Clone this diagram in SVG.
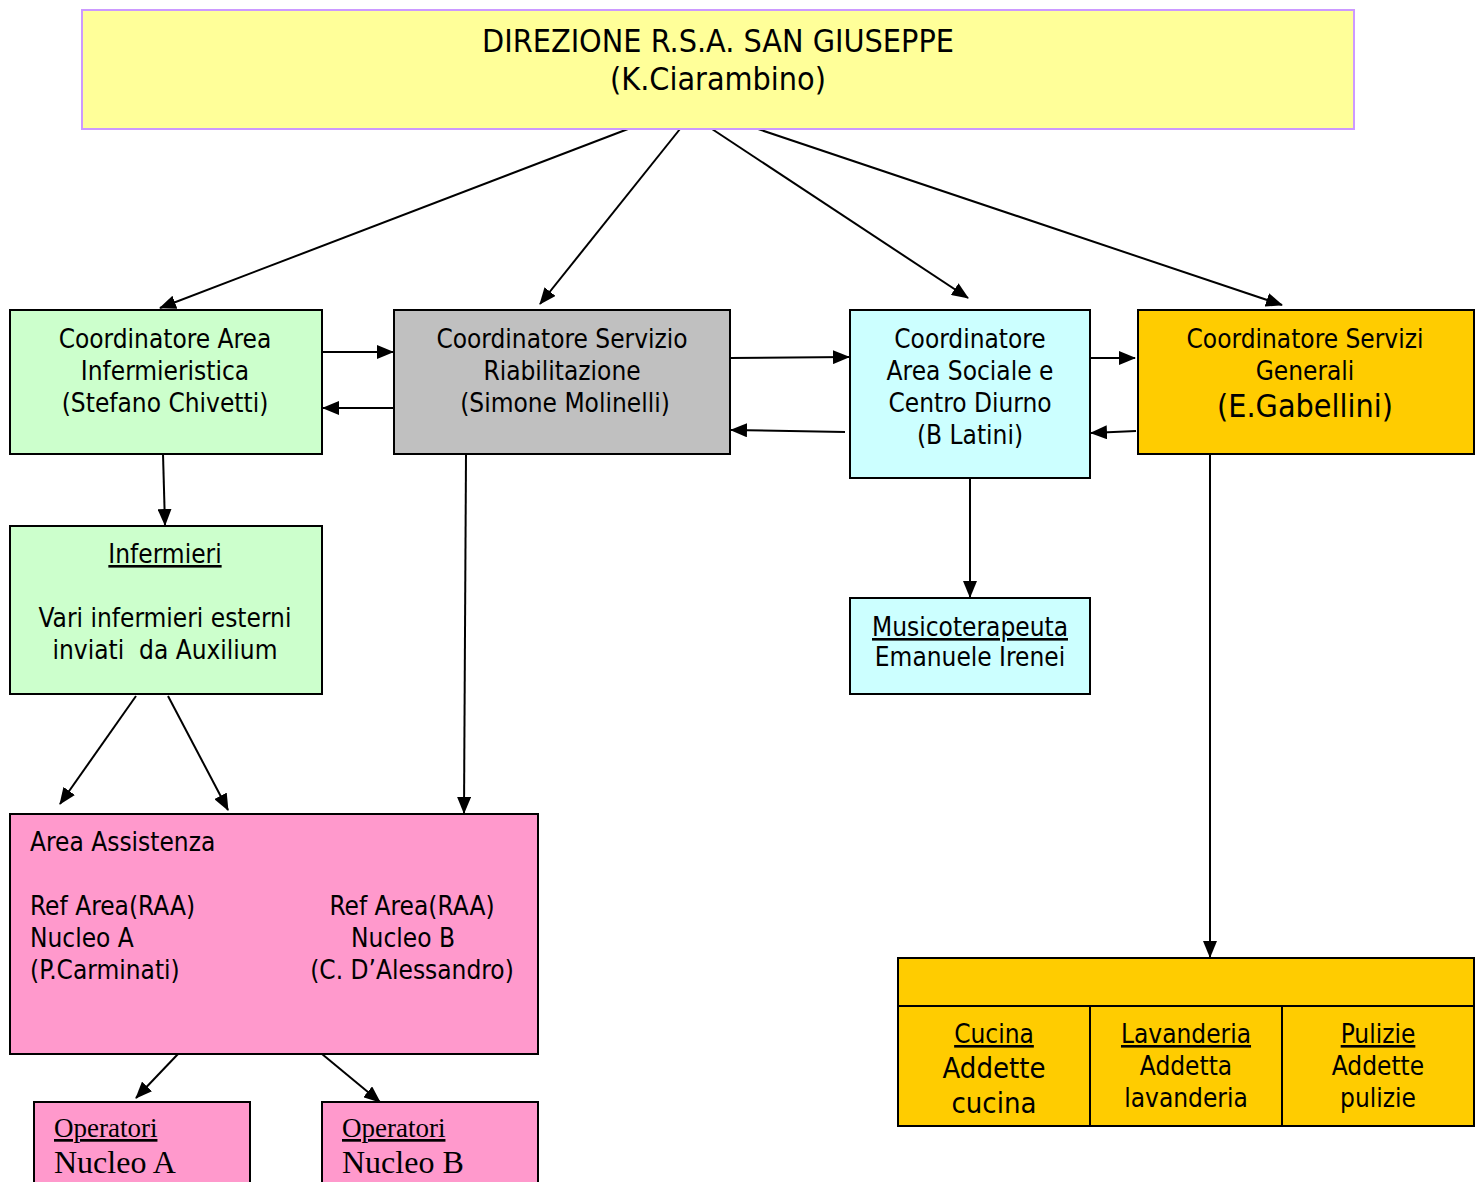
<svg xmlns="http://www.w3.org/2000/svg" width="1484" height="1182" viewBox="0 0 1484 1182">
<style>
.box{stroke:#000;stroke-width:2}
.t{font-family:"DejaVu Sans Condensed","DejaVu Sans",Tahoma,sans-serif;font-size:26px;fill:#000;text-anchor:middle}
.l{text-anchor:start}
.big{font-size:32px}
.mid{font-size:29px}
.tm{font-family:"Liberation Serif","Times New Roman",serif;font-size:27px;fill:#000}
.tmb{font-size:32px}
.u{text-decoration:underline}
.c{stroke:#000;stroke-width:2;fill:none;marker-end:url(#ah)}
</style>
<defs>
<marker id="ah" markerUnits="userSpaceOnUse" markerWidth="18" markerHeight="14" refX="16" refY="7" orient="auto">
<path d="M0,0 L17,7 L0,14 Z" fill="#000"/>
</marker>
</defs>
<rect width="1484" height="1182" fill="#fff"/>
<g id="connectors">
<line class="c" x1="628" y1="129" x2="160" y2="308"/>
<line class="c" x1="680" y1="129" x2="540" y2="304"/>
<line class="c" x1="712" y1="129" x2="968" y2="298"/>
<line class="c" x1="752" y1="127" x2="1282" y2="305"/>
<line class="c" x1="322" y1="352" x2="393" y2="352"/>
<line class="c" x1="396" y1="408" x2="323" y2="408"/>
<line class="c" x1="730" y1="358" x2="849" y2="357"/>
<line class="c" x1="845" y1="432" x2="731" y2="430"/>
<line class="c" x1="1090" y1="358" x2="1135" y2="358"/>
<line class="c" x1="1136" y1="431" x2="1091" y2="433"/>
<line class="c" x1="163" y1="454" x2="165" y2="525"/>
<line class="c" x1="466" y1="454" x2="464" y2="813"/>
<line class="c" x1="970" y1="478" x2="970" y2="597"/>
<line class="c" x1="1210" y1="454" x2="1210" y2="957"/>
<line class="c" x1="136" y1="696" x2="60" y2="804"/>
<line class="c" x1="168" y1="696" x2="228" y2="810"/>
<line class="c" x1="178" y1="1054" x2="136" y2="1098"/>
<line class="c" x1="322" y1="1054" x2="380" y2="1102"/>
</g>
<g id="direzione">
<rect x="82" y="10" width="1272" height="119" fill="#FFFF99" stroke="#CC99FF" stroke-width="2"/>
<text class="t big" x="718" y="52">DIREZIONE R.S.A. SAN GIUSEPPE</text>
<text class="t big" x="718" y="90">(K.Ciarambino)</text>
</g>
<g id="coord-infermieristica">
<rect class="box" x="10" y="310" width="312" height="144" fill="#CCFFCC"/>
<text class="t" x="165" y="348">Coordinatore Area</text>
<text class="t" x="165" y="380">Infermieristica</text>
<text class="t" x="165" y="412">(Stefano Chivetti)</text>
</g>
<g id="coord-riabilitazione">
<rect class="box" x="394" y="310" width="336" height="144" fill="#C0C0C0"/>
<text class="t" x="562" y="348">Coordinatore Servizio</text>
<text class="t" x="562" y="380">Riabilitazione</text>
<text class="t" x="565" y="412">(Simone Molinelli)</text>
</g>
<g id="coord-sociale">
<rect class="box" x="850" y="310" width="240" height="168" fill="#CCFFFF"/>
<text class="t" x="970" y="348">Coordinatore</text>
<text class="t" x="970" y="380">Area Sociale e</text>
<text class="t" x="970" y="412">Centro Diurno</text>
<text class="t" x="970" y="444">(B Latini)</text>
</g>
<g id="coord-servizi">
<rect class="box" x="1138" y="310" width="336" height="144" fill="#FFCC00"/>
<text class="t" x="1305" y="348">Coordinatore Servizi</text>
<text class="t" x="1305" y="380">Generali</text>
<text class="t big" x="1305" y="417">(E.Gabellini)</text>
</g>
<g id="infermieri">
<rect class="box" x="10" y="526" width="312" height="168" fill="#CCFFCC"/>
<text class="t u" x="165" y="563">Infermieri</text>
<text class="t" x="165" y="627">Vari infermieri esterni</text>
<text class="t" x="165" y="659" xml:space="preserve">inviati  da Auxilium</text>
</g>
<g id="musicoterapeuta">
<rect class="box" x="850" y="598" width="240" height="96" fill="#CCFFFF"/>
<text class="t u" x="970" y="636">Musicoterapeuta</text>
<text class="t" x="970" y="666">Emanuele Irenei</text>
</g>
<g id="area-assistenza">
<rect class="box" x="10" y="814" width="528" height="240" fill="#FF99CC"/>
<text class="t l" x="30" y="851">Area Assistenza</text>
<text class="t l" x="30" y="915">Ref Area(RAA)</text>
<text class="t l" x="30" y="947">Nucleo A</text>
<text class="t l" x="30" y="979">(P.Carminati)</text>
<text class="t" x="412" y="915">Ref Area(RAA)</text>
<text class="t" x="403" y="947">Nucleo B</text>
<text class="t" x="412" y="979">(C. D’Alessandro)</text>
</g>
<g id="operatori-a">
<rect class="box" x="34" y="1102" width="216" height="90" fill="#FF99CC"/>
<text class="tm u" x="54" y="1137">Operatori</text>
<text class="tm tmb" x="54" y="1173">Nucleo A</text>
</g>
<g id="operatori-b">
<rect class="box" x="322" y="1102" width="216" height="90" fill="#FF99CC"/>
<text class="tm u" x="342" y="1137">Operatori</text>
<text class="tm tmb" x="342" y="1173">Nucleo B</text>
</g>
<g id="servizi-generali">
<rect class="box" x="898" y="958" width="576" height="168" fill="#FFCC00"/>
<line class="box" x1="898" y1="1006" x2="1474" y2="1006"/>
<line class="box" x1="1090" y1="1006" x2="1090" y2="1126"/>
<line class="box" x1="1282" y1="1006" x2="1282" y2="1126"/>
<text class="t u" x="994" y="1043">Cucina</text>
<text class="t mid" x="994" y="1078">Addette</text>
<text class="t mid" x="994" y="1113">cucina</text>
<text class="t u" x="1186" y="1043">Lavanderia</text>
<text class="t" x="1186" y="1075">Addetta</text>
<text class="t" x="1186" y="1107">lavanderia</text>
<text class="t u" x="1378" y="1043">Pulizie</text>
<text class="t" x="1378" y="1075">Addette</text>
<text class="t" x="1378" y="1107">pulizie</text>
</g>
</svg>
